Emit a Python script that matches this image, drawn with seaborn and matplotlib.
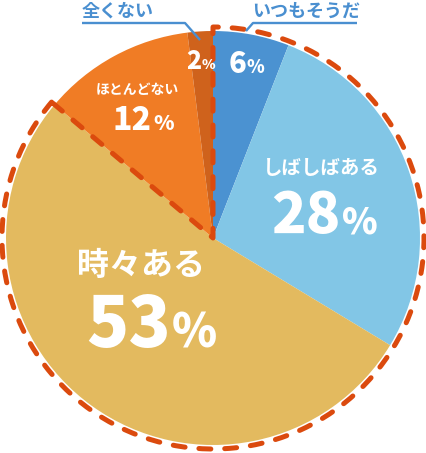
import numpy as np
import matplotlib
matplotlib.use("Agg")
import matplotlib.pyplot as plt
from matplotlib.patches import Wedge
import seaborn as sns

# ---- data ----
categories = ["いつもそうだ", "しばしばある", "時々ある", "ほとんどない", "全くない"]
values = [6, 28, 53, 12, 2]
pct_labels = ["6", "28", "53", "12", "2"]
colors = ["#4b92d1", "#82c6e6", "#e3ba5f", "#f07c25", "#cf621c"]
highlight_n = 3  # first three categories are enclosed by the dashed outline

sns.set_style("white")
plt.rcParams['font.family'] = ['Noto Sans CJK JP', 'DejaVu Sans']
plt.rcParams['lines.scale_dashes'] = False

W, H = 427, 453
fig = plt.figure(figsize=(W / 100, H / 100), dpi=100)
ax = fig.add_axes([0, 0, 1, 1])

def Y(y):
    return H - y

cx, cy, r = 213, Y(238), 207
ax.pie(values, colors=colors, startangle=90, counterclock=False,
       center=(cx, cy), radius=r, frame=True,
       wedgeprops=dict(linewidth=0, antialiased=True))
ax.set_xlim(0, W)
ax.set_ylim(0, H)
ax.axis("off")

# dashed outline around the first three slices
frac = sum(values[:highlight_n]) / sum(values)
end_angle = 90 - 360 * frac
outline = Wedge((cx, cy), r + 4, end_angle + 360, 90 + 360,
                fill=False, edgecolor="#db4a0e", linewidth=3.6,
                linestyle=(0, (8.6, 10.0)), capstyle="round",
                joinstyle="round", zorder=5)
ax.add_patch(outline)

white = "white"
numw = "black"
labw = "bold"

def pct(xsplit, ybase, num, nsize, psize):
    ax.text(xsplit, Y(ybase), num, color=white, fontsize=nsize, fontweight=numw,
            ha="right", va="baseline", zorder=6)
    ax.text(xsplit + 1, Y(ybase), "%", color=white, fontsize=psize, fontweight=numw,
            ha="left", va="baseline", zorder=6)

# inside labels
pct(246, 73, pct_labels[0], 21, 13)                       # 6%
ax.text(321, Y(169), categories[1], color=white, fontsize=14, fontweight=labw,
        ha="center", va="center", zorder=6)
pct(341, 233, pct_labels[1], 41, 26)                      # 28%
ax.text(141, Y(266), categories[2], color=white, fontsize=23, fontweight=labw,
        ha="center", va="center", zorder=6)
pct(171, 347, pct_labels[2], 50, 33)                      # 53%
ax.text(137, Y(90), categories[3], color=white, fontsize=10, fontweight=labw,
        ha="center", va="center", zorder=6)
pct(152, 130, pct_labels[3], 23, 15)                      # 12%
pct(201, 69, pct_labels[4], 18, 10)                       # 2%

# callout labels
blue = "#4a8fd0"
ax.text(82, Y(11), categories[4], color=blue, fontsize=13, fontweight=labw,
        ha="left", va="center", zorder=6)
ax.plot([82, 185, 200], [Y(23), Y(23), Y(40)], color=blue, lw=1.7,
        solid_capstyle="butt", zorder=6)
ax.text(252, Y(11), categories[0], color=blue, fontsize=13, fontweight=labw,
        ha="left", va="center", zorder=6)
ax.plot([357, 253, 246], [Y(23), Y(23), Y(31)], color=blue, lw=1.7,
        solid_capstyle="butt", zorder=6)

fig.savefig("out.png", dpi=100, facecolor="white")
